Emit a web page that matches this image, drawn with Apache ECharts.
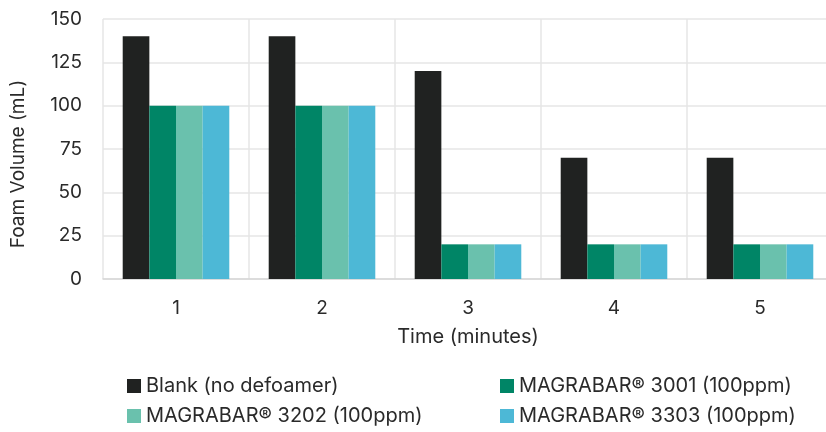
<!DOCTYPE html>
<html>
<head>
<meta charset="utf-8">
<script src="https://cdn.jsdelivr.net/npm/echarts@6/dist/echarts.min.js"></script>
<style>
html,body{margin:0;padding:0;background:#fff;}
#c{width:826px;height:432px;}
</style>
</head>
<body>
<div id="c"></div>
<script>
const categories = ['1', '2', '3', '4', '5'];
const blank = [140, 140, 120, 70, 70];
const m3001 = [100, 100, 20, 20, 20];
const m3202 = [100, 100, 20, 20, 20];
const m3303 = [100, 100, 20, 20, 20];
const yTicks = { min: 0, max: 150, interval: 25 };
const names = ['Blank (no defoamer)', 'MAGRABAR® 3001 (100ppm)', 'MAGRABAR® 3202 (100ppm)', 'MAGRABAR® 3303 (100ppm)'];
const colors = ['#202221', '#008566', '#6ac1ad', '#4db8d6'];

const font = 'Inter';
const textColor = '#2a2a2a';
const chart = echarts.init(document.getElementById('c'), null, { renderer: 'canvas' });
const legendCommon = {
  orient: 'vertical',
  padding: 0,
  height: 80,
  itemWidth: 14,
  itemHeight: 14,
  itemGap: 10,
  icon: 'rect',
  textStyle: { fontFamily: font, fontSize: 20, color: textColor },
  selectedMode: false
};
chart.setOption({
  animation: false,
  color: colors,
  grid: { left: 103, top: 19, width: 730, height: 260, outerBoundsMode: 'none', containLabel: false },
  legend: [
    Object.assign({ left: 127, top: 376, data: [names[0], names[2]] }, legendCommon),
    Object.assign({ left: 500, top: 376, data: [names[1], names[3]] }, legendCommon)
  ],
  xAxis: {
    type: 'category',
    data: categories,
    name: 'Time (minutes)',
    nameLocation: 'middle',
    nameGap: 48,
    nameTextStyle: { fontFamily: font, fontSize: 20, color: textColor },
    axisLine: { show: true, lineStyle: { color: '#d6d6d6', width: 1.5 } },
    axisTick: { show: false },
    axisLabel: { fontFamily: font, fontSize: 19, color: textColor, margin: 20 },
    splitLine: { show: true, lineStyle: { color: '#e6e6e6', width: 1.5 } }
  },
  yAxis: {
    type: 'value',
    min: yTicks.min,
    max: yTicks.max,
    interval: yTicks.interval,
    name: 'Foam Volume (mL)',
    nameLocation: 'middle',
    nameGap: 75,
    nameTextStyle: { fontFamily: font, fontSize: 19, color: textColor, padding: [0, 30, 0, 0] },
    axisLine: { show: false },
    axisTick: { show: false },
    axisLabel: { fontFamily: font, fontSize: 19, color: textColor, margin: 21 },
    splitLine: { show: true, lineStyle: { color: '#e6e6e6', width: 1.5 } }
  },
  series: [
    { name: names[0], type: 'bar', data: blank, barGap: '0%', barCategoryGap: '27%' },
    { name: names[1], type: 'bar', data: m3001 },
    { name: names[2], type: 'bar', data: m3202 },
    { name: names[3], type: 'bar', data: m3303 }
  ]
});
</script>
</body>
</html>
